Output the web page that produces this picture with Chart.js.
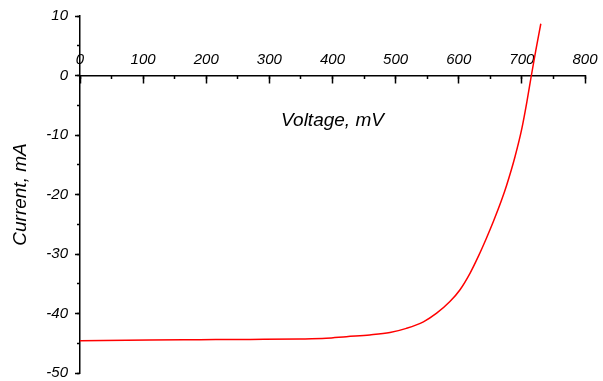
<!DOCTYPE html>
<html>
<head>
<meta charset="utf-8">
<script src="https://cdn.jsdelivr.net/npm/chart.js@4.4.1/dist/chart.umd.min.js"></script>
<style>
    html, body { margin: 0; padding: 0; background: #fff; }
    #chartBox { width: 603px; height: 381px; position: relative; }
</style>
</head>
<body>
<div id="chartBox"><canvas id="ivChart"></canvas></div>
<script>
// --- Data ---
const voltage = [0, 110, 190, 270, 348, 390, 422, 459, 491, 517, 544, 565, 586, 602, 618, 631, 644, 655, 668, 676, 689, 700, 708, 715, 722, 730];
const current = [-44.6, -44.45, -44.4, -44.35, -44.28, -44.17, -43.89, -43.6, -43.2, -42.5, -41.4, -39.95, -38.0, -36.0, -33.2, -30.4, -27.3, -24.5, -20.9, -18.4, -13.7, -8.9, -4.4, 0, 4.2, 8.7];

// axis ranges / tick steps
const xRange = [0, 800];
const yRange = [-50, 10];
const xMajorStep = 100, xMinorStep = 50;
const yMajorStep = 10, yMinorStep = 5;

const xTitle = 'Voltage, mV';
const yTitle = 'Current, mA';

document.addEventListener('DOMContentLoaded', function() {
    const ctx = document.getElementById('ivChart').getContext('2d');

    const tickFont = { family: "'Liberation Sans', Arial, sans-serif", size: 15, style: 'italic' };
    const titleFont = { family: "'Liberation Sans', Arial, sans-serif", size: 19, style: 'italic' };
    const axisLine = { display: true, color: '#000', width: 1.5 };

    const points = voltage.map((v, i) => ({ x: v, y: current[i] }));

    new Chart(ctx, {
        type: 'line',
        data: {
            datasets: [{
                data: points,
                borderColor: '#ff0000',
                borderWidth: 1.5,
                pointRadius: 0,
                fill: false,
                cubicInterpolationMode: 'monotone'
            }]
        },
        options: {
            responsive: true,
            maintainAspectRatio: false,
            animation: false,
            layout: { padding: { top: 16, right: 18, bottom: 8, left: 0 } },
            plugins: {
                legend: { display: false },
                tooltip: { enabled: false }
            },
            scales: {
                // x axis sits on the y = 0 line, labels above it
                x: {
                    type: 'linear',
                    position: { y: 0 },
                    min: xRange[0], max: xRange[1],
                    border: axisLine,
                    grid: { drawOnChartArea: false, tickLength: 7, tickColor: '#000', tickWidth: 1.5 },
                    ticks: { stepSize: xMajorStep, color: '#000', font: tickFont, padding: -32, maxRotation: 0, autoSkip: false },
                    title: { display: true, text: xTitle, color: '#000', font: titleFont, padding: { top: 0, bottom: -57 } },
                    afterFit: s => { s.height = 0; }
                },
                xMinor: {
                    type: 'linear',
                    position: { y: 0 },
                    min: xRange[0], max: xRange[1],
                    border: { display: false },
                    grid: { drawOnChartArea: false, tickLength: 4, tickColor: '#000', tickWidth: 1.5 },
                    ticks: { stepSize: xMinorStep, display: false, autoSkip: false },
                    afterFit: s => { s.height = 0; }
                },
                y: {
                    type: 'linear',
                    position: 'left',
                    weight: 0,
                    min: yRange[0], max: yRange[1],
                    border: axisLine,
                    grid: { drawOnChartArea: false, tickLength: 5, tickColor: '#000', tickWidth: 1.5 },
                    ticks: { stepSize: yMajorStep, color: '#000', font: tickFont, padding: 7 },
                    title: { display: true, text: yTitle, color: '#000', font: titleFont, padding: { top: 9, bottom: 0 } },
                    afterFit: s => { s.width = 80; s.paddingTop = 0; s.paddingBottom = 0; }
                },
                yMinor: {
                    type: 'linear',
                    position: 'left',
                    weight: -1,
                    min: yRange[0], max: yRange[1],
                    border: { display: false },
                    grid: { drawOnChartArea: false, tickLength: 3, tickColor: '#000', tickWidth: 1.5 },
                    ticks: { stepSize: yMinorStep, display: false },
                    afterFit: s => { s.width = 0; }
                }
            }
        }
    });
});
</script>
</body>
</html>
